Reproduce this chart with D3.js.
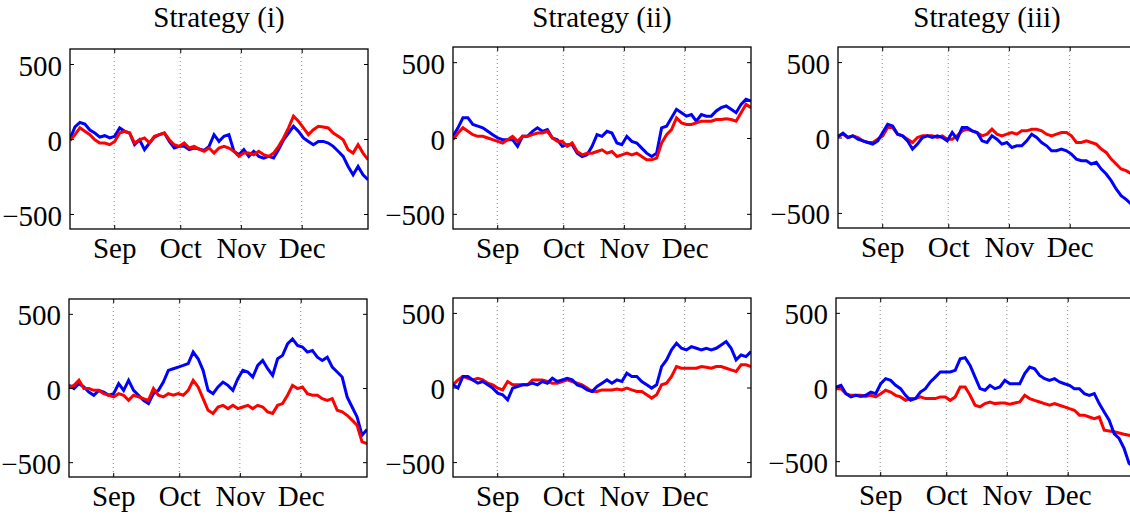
<!DOCTYPE html>
<html>
<head>
<meta charset="utf-8">
<script src="https://cdn.jsdelivr.net/npm/d3@7"></script>
<style>
  body { margin: 0; background: #fff; }
  svg { display: block; }
</style>
</head>
<body>
<script>
// month labels and where they fall on the trading-day index (0..60)
const months = ["Sep", "Oct", "Nov", "Dec"]
const monthPos = [8.9, 22.2, 34.4, 46.65]
const yTicks = [-500, 0, 500]
const titles = ["Strategy (i)", "Strategy (ii)", "Strategy (iii)"]

// upper row, values (one point per index step)
const blueUp1 = [0,80,110,100,60,40,13,22,7,18,74,51,40,-38,-5,-71,-27,13,29,40,-16,-60,-49,-49,-71,-60,-67,-76,-49,29,-16,18,29,-82,-105,-71,-116,-82,-116,-127,-116,-127,-71,-5,40,85,51,7,-16,-38,-16,-16,-27,-49,-82,-116,-183,-239,-183,-239,-272]
const redUp1 = [-10,29,74,51,29,-5,-27,-27,-38,-16,40,51,40,-27,-5,7,-27,18,29,40,-5,-38,-49,-27,-60,-49,-67,-82,-60,-94,-60,-49,-60,-82,-116,-94,-94,-105,-82,-105,-116,-94,-49,7,74,152,118,74,29,62,85,80,74,40,18,-5,-71,-94,-38,-94,-138]
const blueUp2 = [11,67,133,133,89,78,67,44,22,0,-11,-11,-11,-55,11,11,44,67,44,55,0,-11,-55,-44,-44,-100,-122,-111,-55,22,11,44,33,-33,-44,11,-22,-33,-67,-100,-122,-100,67,78,133,189,167,144,155,111,155,144,144,178,200,211,189,167,222,255,244]
const redUp2 = [-11,33,67,44,22,11,11,0,-11,-22,-33,-11,11,-22,11,11,22,33,33,44,0,-22,-22,-55,-33,-89,-111,-100,-100,-89,-78,-100,-89,-122,-111,-100,-111,-100,-122,-144,-144,-133,-33,22,55,133,100,89,89,100,111,111,111,122,122,127,122,111,167,222,200]
const blueUp3 = [7,29,0,11,-11,-22,-33,-44,-22,33,88,77,22,11,-22,-77,-44,0,11,0,11,0,-22,33,-11,66,66,44,33,-22,-33,11,-11,-44,-33,-66,-55,-55,-22,22,0,-33,-55,-88,-88,-77,-88,-110,-143,-154,-154,-176,-165,-209,-242,-286,-341,-385,-410,-440,-460]
const redUp3 = [7,22,0,11,0,-22,-33,-33,-11,11,66,66,22,11,-11,-33,0,11,11,11,0,11,-11,-11,11,44,55,44,33,11,22,55,22,11,22,33,22,44,44,55,55,44,22,11,22,33,33,11,-33,-33,-22,-33,-44,-77,-99,-143,-176,-209,-220,-240,-270]

// lower row
const blueLow1 = [18,-4,29,7,-27,-49,-16,-27,-49,-38,29,-16,52,-16,-49,-83,-105,-38,-16,40,119,130,141,152,164,242,197,119,-16,-38,7,40,18,-16,63,119,108,74,152,186,130,85,197,220,298,331,287,276,242,253,208,186,208,141,108,74,-60,-128,-195,-318,-280]
const redLow1 = [7,18,52,-4,-4,-16,-16,-38,-49,-60,-38,-49,-83,-49,-60,-72,-83,-4,-49,-60,-38,-49,-38,-49,-16,52,7,-72,-150,-172,-128,-117,-139,-117,-139,-128,-117,-139,-117,-128,-161,-172,-117,-105,-49,18,-4,7,-38,-49,-49,-72,-83,-72,-150,-161,-184,-217,-251,-363,-374]
const blueLow2 = [18,-4,74,74,51,29,40,18,-4,-38,-49,-83,-4,7,18,18,29,18,40,29,62,40,51,62,51,18,7,-16,-27,7,29,51,29,51,40,96,74,74,40,18,-4,18,140,185,252,297,263,252,274,263,252,263,252,263,285,308,263,185,218,207,241]
const redLow2 = [18,51,74,62,51,62,51,29,18,-4,-16,40,18,18,18,18,51,51,51,40,29,29,40,51,40,29,18,-4,-27,-27,-16,-16,-16,-11,-16,-4,-16,-27,-27,-49,-71,-49,18,29,74,140,129,129,129,129,140,136,129,140,140,129,118,107,152,152,140]
const blueLow3 = [0,11,-45,-67,-56,-63,-56,-34,-45,22,56,45,11,-11,-56,-90,-78,-34,-11,34,67,101,101,101,112,190,197,146,67,-11,-22,11,-11,0,45,22,22,22,90,134,123,78,56,45,56,34,22,11,-11,-11,-45,-56,-45,-112,-168,-224,-314,-347,-414,-515,-538]
const redLow3 = [-11,-11,-45,-56,-56,-56,-63,-56,-67,-45,-22,-34,-56,-67,-90,-78,-78,-67,-78,-78,-78,-67,-67,-90,-67,0,0,-56,-123,-134,-112,-101,-112,-108,-108,-116,-108,-101,-56,-78,-90,-101,-112,-123,-112,-123,-134,-146,-157,-190,-190,-202,-213,-202,-291,-296,-302,-310,-318,-325,-335]

const W = 1130, H = 518
const fontSize = 29
const serif = "Liberation Serif"

// panel boxes, row by row
const panels = [
  {x: 70,  y: 49, w: 298, h: 180, blue: blueUp1, red: redUp1, title: titles[0], redTop: true},
  {x: 453, y: 47, w: 298, h: 182, blue: blueUp2, red: redUp2, title: titles[1], redTop: true},
  {x: 838, y: 47, w: 298, h: 181, blue: blueUp3, red: redUp3, title: titles[2], redTop: false},
  {x: 69,  y: 299, w: 298, h: 178, blue: blueLow1, red: redLow1, redTop: true},
  {x: 453, y: 298, w: 298, h: 179, blue: blueLow2, red: redLow2, redTop: false},
  {x: 836, y: 298, w: 298, h: 178, blue: blueLow3, red: redLow3, redTop: false}
]

const svg = d3.select("body").append("svg")
    .attr("width", W)
    .attr("height", H)

svg.append("rect").attr("width", W).attr("height", H).attr("fill", "#fff")

panels.forEach((p, k) => {
  const x = d3.scaleLinear().domain([0, 60]).range([p.x, p.x + p.w])
  const y = d3.scaleLinear().domain([-600, 600]).range([p.y + p.h, p.y])
  const g = svg.append("g")

  // dotted month grid
  g.selectAll("line.grid")
    .data(monthPos)
    .join("line")
      .attr("class", "grid")
      .attr("x1", d => x(d)).attr("x2", d => x(d))
      .attr("y1", p.y).attr("y2", p.y + p.h)
      .attr("stroke", "#8a8a8a")
      .attr("stroke-width", 1)
      .attr("stroke-dasharray", "1,3")

  g.append("clipPath").attr("id", "clip" + k)
    .append("rect").attr("x", p.x).attr("y", p.y).attr("width", p.w).attr("height", p.h)

  const line = d3.line().x((d, i) => x(i)).y(d => y(d))
  const order = p.redTop ? [[p.blue, "#0000ff"], [p.red, "#ff0000"]] : [[p.red, "#ff0000"], [p.blue, "#0000ff"]]
  order.forEach(([vals, col]) => {
    g.append("path")
      .datum(vals)
      .attr("clip-path", `url(#clip${k})`)
      .attr("d", line)
      .attr("fill", "none")
      .attr("stroke", col)
      .attr("stroke-width", 3)
      .attr("stroke-linejoin", "miter")
  })

  // axes with inward ticks, MATLAB style box
  const fmt = d3.format("d")
  const left = g.append("g").attr("transform", `translate(${p.x},0)`)
    .call(d3.axisLeft(y).tickValues(yTicks).tickSize(-4).tickPadding(8).tickFormat(fmt))
  const right = g.append("g").attr("transform", `translate(${p.x + p.w},0)`)
    .call(d3.axisRight(y).tickValues(yTicks).tickSize(-4).tickFormat(""))
  const bottom = g.append("g").attr("transform", `translate(0,${p.y + p.h})`)
    .call(d3.axisBottom(x).tickValues(monthPos).tickSize(-4).tickPadding(8).tickFormat((d, i) => months[i]))
  const top = g.append("g").attr("transform", `translate(0,${p.y})`)
    .call(d3.axisTop(x).tickValues(monthPos).tickSize(-4).tickFormat(""))

  ;[left, right, bottom, top].forEach(a => {
    a.attr("font-family", serif).attr("font-size", fontSize)
    a.select(".domain").remove()
    a.selectAll(".tick line").attr("stroke", "#000").attr("stroke-width", 1)
    a.selectAll("text").attr("fill", "#000").style("font-family", serif)
  })
  left.selectAll("text").attr("dy", "0.38em")

  g.append("rect")
    .attr("x", p.x).attr("y", p.y).attr("width", p.w).attr("height", p.h)
    .attr("fill", "none").attr("stroke", "#000").attr("stroke-width", 1.3)

  if (p.title) {
    g.append("text")
      .attr("x", p.x + p.w / 2)
      .attr("y", 27)
      .attr("text-anchor", "middle")
      .style("font-family", serif)
      .style("font-size", fontSize + "px")
      .text(p.title)
  }
})
</script>
</body>
</html>
